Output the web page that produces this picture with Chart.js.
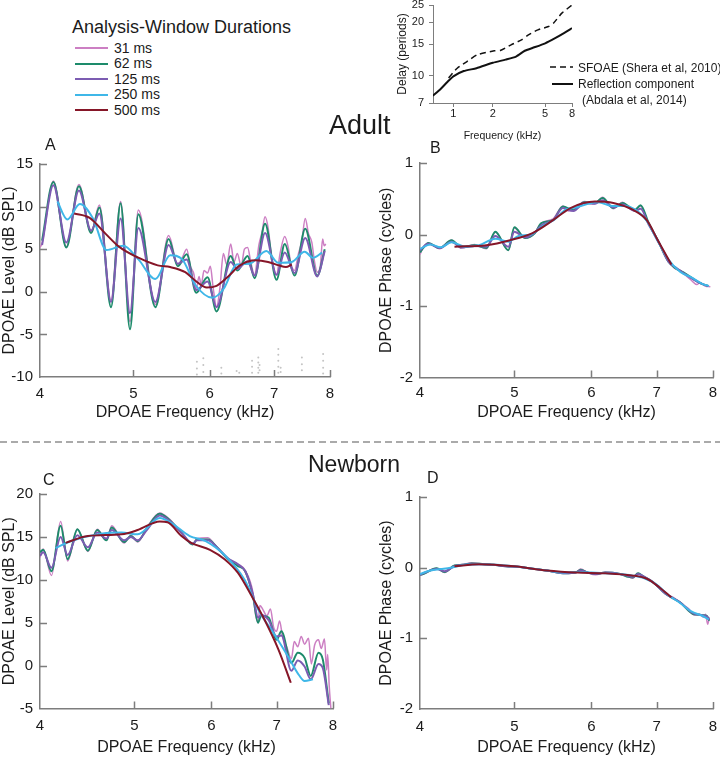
<!DOCTYPE html>
<html>
<head>
<meta charset="utf-8">
<script src="https://cdn.jsdelivr.net/npm/chart.js@4.4.1/dist/chart.umd.min.js"></script>
<style>
body{margin:0;background:#fff}
#page{position:relative;width:720px;height:758px;overflow:hidden;font-family:"Liberation Sans",Arial,sans-serif;color:#1b1b1b;background:#fff}
#page canvas{position:absolute}
.t{position:absolute;white-space:nowrap;line-height:1}
</style>
</head>
<body>
<div id="page">
  <canvas id="inset" width="190" height="145" style="left:390px;top:0"></canvas>
  <canvas id="chartA" width="345" height="300" style="left:0;top:130px"></canvas>
  <canvas id="chartB" width="360" height="300" style="left:360px;top:130px"></canvas>
  <canvas id="chartC" width="345" height="298" style="left:0;top:460px"></canvas>
  <canvas id="chartD" width="360" height="298" style="left:360px;top:460px"></canvas>

  <div class="t" style="left:72px;top:18px;font-size:18px">Analysis-Window Durations</div>
  <div id="legend"></div>

  <svg style="position:absolute;left:548px;top:60px" width="30" height="30">
    <line x1="2" y1="7" x2="25" y2="7" stroke="#111" stroke-width="1.5" stroke-dasharray="6,4"/>
    <line x1="4" y1="24" x2="25" y2="24" stroke="#111" stroke-width="2"/>
  </svg>
  <div class="t" style="left:578px;top:61.5px;font-size:12px">SFOAE (Shera et al, 2010)</div>
  <div class="t" style="left:578px;top:78px;font-size:12px">Reflection component</div>
  <div class="t" style="left:582px;top:93.5px;font-size:12px">(Abdala et al, 2014)</div>

  <div class="t" style="left:329px;top:112px;font-size:27px">Adult</div>
  <div class="t" style="left:308px;top:452.5px;font-size:23px">Newborn</div>
  <div class="t" style="left:45px;top:136.5px;font-size:16px">A</div>
  <div class="t" style="left:430px;top:139.5px;font-size:16px">B</div>
  <div class="t" style="left:43px;top:471.5px;font-size:16px">C</div>
  <div class="t" style="left:427px;top:469.5px;font-size:16px">D</div>

  <svg style="position:absolute;left:0;top:436px" width="720" height="12">
    <line x1="0" y1="6" x2="720" y2="6" stroke="#aaa" stroke-width="2" stroke-dasharray="7,4"/>
  </svg>
</div>

<script>
// analysis windows
const windowNames = ['31 ms', '62 ms', '125 ms', '250 ms', '500 ms'];
const windowColors = ['#cc7fc3', '#1d8b6b', '#7c5cb2', '#3fb7e8', '#861628'];

// tick labels
const freqTicks = [4, 5, 6, 7, 8];
const levelTicksAdult = [-10, -5, 0, 5, 10, 15];
const levelTicksNewborn = [-5, 0, 5, 10, 15, 20];
const phaseTicks = [-2, -1, 0, 1];
const insetFreqTicks = [1, 2, 5, 8];
const insetDelayTicks = [7, 10, 15, 20, 25];

// inset: delay in periods vs frequency (kHz)
const sfoaeFreq = [0.92, 1.07, 1.27, 1.52, 2.05, 2.3, 2.75, 3.3, 3.7, 4.4, 5.3, 5.8, 6.7, 8.0];
const sfoaeDelay = [9.7, 11.0, 12.0, 13.1, 13.8, 13.9, 14.9, 15.9, 16.9, 18.1, 18.9, 19.8, 22.5, 25.0];
const reflFreq = [0.7, 0.8, 0.9, 1.0, 1.2, 1.5, 2.0, 2.5, 3.0, 3.5, 4.0, 5.0, 6.0, 7.0, 8.0];
const reflDelay = [7.7, 8.4, 9.2, 9.9, 10.6, 11.0, 11.8, 12.3, 12.8, 13.8, 14.3, 15.2, 16.3, 17.4, 18.5];

// A: adult level (dB SPL), [kHz, value]
const adultLevel31 = [[4.00,5.2],[4.02,5.7],[4.13,13.0],[4.26,5.3],[4.39,12.6],[4.52,7.0],[4.61,10.2],[4.74,-1.0],[4.85,10.6],[4.96,-3.5],[5.06,9.6],[5.27,-1.5],[5.44,6.6],[5.56,3.2],[5.62,4.0],[5.68,5.0],[5.73,3.0],[5.78,2.0],[5.81,0.3],[5.85,1.8],[5.88,0.8],[5.92,2.5],[5.97,2.2],[6.01,3.0],[6.05,0.5],[6.10,-1.8],[6.15,0.5],[6.20,4.5],[6.25,3.2],[6.31,5.6],[6.36,3.5],[6.41,4.5],[6.47,3.0],[6.52,5.0],[6.57,5.2],[6.62,3.5],[6.68,2.0],[6.75,5.5],[6.80,7.0],[6.85,8.8],[6.90,7.5],[6.96,4.0],[7.04,2.0],[7.10,4.5],[7.18,6.5],[7.24,5.2],[7.28,3.5],[7.35,2.5],[7.42,4.5],[7.48,6.0],[7.54,8.6],[7.60,6.8],[7.66,5.8],[7.71,3.5],[7.76,2.3],[7.82,3.2],[7.86,6.2],[7.89,5.4],[7.92,5.6]];
const adultLevel62 = [[4.02,6.0],[4.13,12.9],[4.26,5.2],[4.39,12.4],[4.52,6.9],[4.61,9.9],[4.74,-1.8],[4.85,10.4],[4.96,-4.4],[5.06,9.1],[5.27,-1.8],[5.44,6.2],[5.56,3.0],[5.68,4.4],[5.81,-0.1],[5.97,1.7],[6.10,-2.3],[6.31,4.2],[6.41,2.5],[6.57,4.2],[6.68,1.6],[6.85,8.0],[7.04,1.4],[7.18,5.6],[7.35,1.9],[7.54,7.4],[7.76,1.9],[7.90,5.0]];
const adultLevel125 = [[4.02,5.5],[4.13,12.5],[4.26,5.8],[4.39,11.9],[4.52,7.2],[4.61,9.2],[4.74,-1.2],[4.85,8.6],[4.96,-2.5],[5.06,7.5],[5.27,-1.2],[5.44,5.5],[5.56,3.3],[5.68,3.8],[5.81,0.2],[5.97,1.2],[6.10,-1.8],[6.31,3.5],[6.41,2.7],[6.57,3.6],[6.68,1.9],[6.85,6.9],[7.04,2.0],[7.18,4.6],[7.35,2.2],[7.54,6.3],[7.76,1.8],[7.90,4.8]];
const adultLevel250 = [[4.17,10.6],[4.27,8.5],[4.40,10.3],[4.54,8.6],[4.69,4.9],[4.88,5.4],[5.06,3.8],[5.27,1.5],[5.46,4.3],[5.62,3.8],[5.80,0.8],[6.04,-0.7],[6.20,0.3],[6.40,3.2],[6.60,3.3],[6.87,4.8],[7.07,3.4],[7.30,3.5],[7.53,4.7],[7.68,4.0],[7.85,4.6]];
const adultLevel500 = [[4.34,9.2],[4.50,8.7],[4.68,6.8],[4.83,5.3],[5.06,4.0],[5.30,3.1],[5.46,2.9],[5.66,2.3],[5.80,1.3],[5.96,0.5],[6.10,0.7],[6.26,1.7],[6.45,3.1],[6.70,3.7],[6.90,3.5],[7.08,3.1],[7.20,2.9],[7.30,3.2]];
const adultNoise = [[5.82,-8.2],[5.82,-9.0],[5.82,-9.7],[5.91,-7.8],[5.91,-8.6],[5.91,-9.4],[6.17,-8.9],[6.17,-9.6],[6.40,-9.3],[6.44,-9.5],[6.64,-8.1],[6.64,-8.8],[6.64,-9.5],[6.74,-7.7],[6.74,-8.3],[6.74,-8.9],[6.74,-9.5],[6.76,-8.6],[6.76,-9.2],[7.07,-6.7],[7.07,-7.4],[7.07,-8.1],[7.07,-8.8],[7.07,-9.5],[7.11,-8.9],[7.11,-9.4],[7.48,-7.7],[7.48,-8.5],[7.48,-9.2],[7.87,-7.3],[7.87,-8.1],[7.87,-8.9],[7.87,-9.6]];

// B: adult phase (cycles)
const adultPhase31 = [[4.00,-0.28],[4.03,-0.18],[4.08,-0.12],[4.19,-0.20],[4.31,-0.08],[4.41,-0.19],[4.55,-0.14],[4.68,-0.20],[4.78,0.03],[4.93,-0.22],[5.00,0.09],[5.13,-0.05],[5.25,0.03],[5.33,0.16],[5.48,0.22],[5.61,0.40],[5.68,0.33],[5.75,0.35],[5.83,0.42],[5.90,0.46],[6.05,0.43],[6.16,0.52],[6.25,0.42],[6.32,0.36],[6.46,0.45],[6.55,0.38],[6.65,0.35],[6.74,0.40],[6.87,0.15],[7.02,-0.10],[7.10,-0.20],[7.20,-0.36],[7.32,-0.48],[7.40,-0.50],[7.48,-0.56],[7.60,-0.64],[7.70,-0.70],[7.76,-0.67],[7.85,-0.72],[7.95,-0.73]];
const adultPhase62 = [[4.00,-0.25],[4.03,-0.19],[4.08,-0.12],[4.19,-0.19],[4.31,-0.08],[4.41,-0.18],[4.55,-0.15],[4.68,-0.19],[4.78,0.04],[4.93,-0.22],[5.00,0.10],[5.13,-0.05],[5.25,0.02],[5.33,0.16],[5.48,0.20],[5.61,0.39],[5.75,0.34],[5.90,0.45],[6.05,0.44],[6.16,0.51],[6.32,0.37],[6.46,0.44],[6.65,0.34],[6.74,0.41],[6.87,0.16],[7.02,-0.08],[7.20,-0.38],[7.32,-0.47],[7.48,-0.54],[7.76,-0.68],[7.91,-0.72]];
const adultPhase125 = [[4.00,-0.22],[4.08,-0.13],[4.19,-0.19],[4.31,-0.10],[4.41,-0.18],[4.55,-0.16],[4.68,-0.17],[4.78,-0.02],[4.93,-0.17],[5.00,0.04],[5.13,-0.04],[5.25,0.03],[5.33,0.13],[5.48,0.20],[5.61,0.37],[5.75,0.33],[5.90,0.44],[6.05,0.43],[6.16,0.48],[6.32,0.38],[6.46,0.42],[6.65,0.33],[6.74,0.36],[6.87,0.14],[7.02,-0.08],[7.20,-0.38],[7.32,-0.46],[7.48,-0.55],[7.76,-0.68],[7.91,-0.72]];
const adultPhase250 = [[4.00,-0.20],[4.10,-0.14],[4.20,-0.18],[4.31,-0.11],[4.45,-0.17],[4.60,-0.15],[4.78,-0.06],[4.93,-0.10],[5.05,-0.02],[5.20,0.00],[5.35,0.12],[5.50,0.21],[5.65,0.35],[5.80,0.38],[5.95,0.43],[6.10,0.45],[6.30,0.40],[6.50,0.40],[6.70,0.32],[6.85,0.18],[7.00,-0.06],[7.20,-0.35],[7.40,-0.52],[7.60,-0.60],[7.80,-0.69],[7.92,-0.72]];
const adultPhase500 = [[4.34,-0.17],[4.68,-0.15],[4.95,-0.08],[5.22,0.02],[5.48,0.20],[5.71,0.37],[6.05,0.46],[6.32,0.44],[6.63,0.34],[6.84,0.20],[7.02,-0.08],[7.25,-0.42]];

// C: newborn level (dB SPL)
const newbornLevel31 = [[4.00,12.6],[4.03,13.6],[4.11,10.5],[4.20,16.8],[4.27,12.2],[4.37,15.9],[4.48,13.3],[4.58,15.9],[4.68,14.6],[4.74,16.3],[4.88,14.3],[4.96,15.2],[5.04,14.4],[5.15,16.1],[5.31,17.8],[5.43,17.1],[5.59,15.4],[5.74,14.2],[5.80,14.8],[5.95,14.9],[6.09,13.6],[6.24,12.5],[6.39,11.8],[6.50,11.1],[6.62,8.5],[6.66,6.0],[6.70,5.0],[6.73,7.0],[6.78,6.5],[6.84,5.8],[6.90,6.6],[6.95,4.5],[7.00,4.0],[7.05,5.2],[7.10,3.4],[7.18,2.0],[7.25,0.8],[7.30,2.8],[7.36,2.2],[7.42,3.4],[7.48,2.5],[7.55,3.2],[7.60,0.2],[7.66,2.4],[7.73,3.0],[7.78,2.0],[7.84,3.1],[7.88,-0.5],[7.90,1.3],[7.93,-2.5],[7.96,-5.0]];
const newbornLevel62 = [[4.00,13.2],[4.03,13.5],[4.11,11.0],[4.20,16.3],[4.27,12.4],[4.37,15.9],[4.48,13.4],[4.58,15.8],[4.68,14.6],[4.74,16.1],[4.88,14.4],[4.96,15.1],[5.04,14.5],[5.15,16.0],[5.31,17.7],[5.43,17.0],[5.59,15.5],[5.74,14.1],[5.80,14.7],[5.95,14.7],[6.09,13.7],[6.24,12.4],[6.39,11.6],[6.50,11.0],[6.62,8.1],[6.70,5.0],[6.75,5.8],[6.87,5.6],[7.00,3.0],[7.08,4.0],[7.25,0.3],[7.36,1.5],[7.48,0.9],[7.59,-1.2],[7.73,1.5],[7.81,0.7],[7.92,-4.4]];
const newbornLevel125 = [[4.00,12.8],[4.03,13.2],[4.11,11.4],[4.20,15.0],[4.27,12.9],[4.37,15.2],[4.48,13.8],[4.58,15.5],[4.68,14.8],[4.74,15.8],[4.88,14.6],[4.96,15.0],[5.04,14.6],[5.15,15.8],[5.31,17.5],[5.43,16.9],[5.59,15.5],[5.74,14.2],[5.80,14.6],[5.95,14.6],[6.09,13.7],[6.24,12.5],[6.39,11.8],[6.50,11.0],[6.62,8.3],[6.70,5.6],[6.75,5.9],[6.87,5.3],[7.00,3.4],[7.08,3.5],[7.25,-0.6],[7.36,0.6],[7.48,-0.1],[7.59,-1.6],[7.73,0.2],[7.81,-0.3],[7.92,-4.6]];
const newbornLevel250 = [[4.15,13.7],[4.30,14.5],[4.64,15.4],[4.85,15.5],[5.04,15.3],[5.31,17.2],[5.46,16.6],[5.70,15.1],[5.92,14.5],[6.20,12.8],[6.49,10.0],[6.72,6.3],[6.95,3.8],[7.19,1.1],[7.38,-1.1],[7.48,-1.8],[7.63,-1.6]];
const newbornLevel500 = [[4.25,14.3],[4.48,15.1],[4.85,15.3],[5.04,15.8],[5.31,16.8],[5.41,16.7],[5.59,15.1],[5.72,14.3],[5.98,13.5],[6.19,12.4],[6.39,10.8],[6.60,8.1],[6.80,5.4],[7.03,1.9],[7.24,-2.0]];

// D: newborn phase (cycles)
const newbornPhase31 = [[4.00,-0.11],[4.03,-0.09],[4.16,-0.01],[4.24,-0.07],[4.34,0.03],[4.42,0.04],[4.52,0.07],[4.65,0.05],[4.76,0.04],[4.90,0.02],[5.07,0.01],[5.25,-0.02],[5.40,-0.04],[5.64,-0.08],[5.78,-0.07],[5.85,-0.02],[5.95,-0.07],[6.06,-0.10],[6.20,-0.07],[6.42,-0.09],[6.55,-0.13],[6.62,-0.15],[6.70,-0.08],[6.78,-0.12],[6.95,-0.21],[7.15,-0.37],[7.30,-0.43],[7.40,-0.50],[7.55,-0.58],[7.65,-0.67],[7.75,-0.66],[7.82,-0.70],[7.86,-0.66],[7.90,-0.80],[7.93,-0.70]];
const newbornPhase62 = [[4.00,-0.10],[4.03,-0.09],[4.16,-0.01],[4.24,-0.06],[4.34,0.03],[4.42,0.04],[4.52,0.06],[4.65,0.05],[4.76,0.04],[4.90,0.02],[5.07,0.01],[5.25,-0.02],[5.40,-0.04],[5.64,-0.08],[5.78,-0.07],[5.85,-0.03],[5.95,-0.07],[6.06,-0.09],[6.20,-0.07],[6.42,-0.09],[6.55,-0.13],[6.62,-0.14],[6.70,-0.08],[6.78,-0.12],[6.95,-0.21],[7.15,-0.37],[7.40,-0.49],[7.65,-0.66],[7.88,-0.68],[7.93,-0.75]];
const newbornPhase125 = [[4.00,-0.10],[4.03,-0.08],[4.16,-0.02],[4.24,-0.05],[4.34,0.02],[4.42,0.04],[4.52,0.05],[4.65,0.05],[4.76,0.04],[4.90,0.02],[5.07,0.01],[5.25,-0.02],[5.40,-0.04],[5.64,-0.08],[5.78,-0.07],[5.85,-0.04],[5.95,-0.07],[6.06,-0.09],[6.20,-0.07],[6.42,-0.09],[6.55,-0.12],[6.62,-0.13],[6.70,-0.09],[6.78,-0.12],[6.95,-0.21],[7.15,-0.37],[7.40,-0.49],[7.65,-0.65],[7.88,-0.69],[7.93,-0.74]];
const newbornPhase250 = [[4.00,-0.09],[4.10,-0.04],[4.20,-0.02],[4.30,0.00],[4.45,0.04],[4.60,0.05],[4.80,0.04],[5.00,0.02],[5.20,-0.01],[5.40,-0.04],[5.60,-0.07],[5.80,-0.06],[6.00,-0.07],[6.20,-0.08],[6.40,-0.09],[6.60,-0.11],[6.80,-0.15],[7.00,-0.24],[7.20,-0.39],[7.40,-0.50],[7.60,-0.62],[7.80,-0.68],[7.92,-0.73]];
const newbornPhase500 = [[4.34,0.02],[4.60,0.05],[5.00,0.02],[5.40,-0.04],[5.80,-0.07],[6.20,-0.08],[6.60,-0.11],[6.85,-0.16],[7.05,-0.28],[7.25,-0.42]];

const FONT = '"Liberation Sans", Arial, sans-serif';
const INK = '#1b1b1b';
const AXIS = '#7d7d7d';

// legend rows
const legendBox = document.getElementById('legend');
windowNames.forEach((name, i) => {
  const top = 48.3 + i * 15.5;
  legendBox.insertAdjacentHTML('beforeend',
    '<div style="position:absolute;left:75px;top:' + (top - 1) + 'px;width:33px;height:2px;background:' + windowColors[i] + '"></div>' +
    '<div class="t" style="left:114px;top:' + (top - 7.5) + 'px;font-size:14px">' + name + '</div>');
});

const toXY = pts => pts.map(p => ({ x: p[0], y: p[1] }));
const zip = (xs, ys) => xs.map((x, i) => ({ x: x, y: ys[i] }));

function series(pts, i, w) {
  return {
    data: toXY(pts),
    borderColor: windowColors[i],
    borderWidth: w || 2,
    pointRadius: 0,
    cubicInterpolationMode: 'monotone',
    order: 4 - i
  };
}

// tick marks drawn on the inside of the axes
const innerTicks = {
  id: 'innerTicks',
  afterDraw(chart, args, opts) {
    if (!opts.len) return;
    const { ctx, chartArea: a, scales: { x, y } } = chart;
    ctx.save();
    ctx.strokeStyle = AXIS;
    ctx.lineWidth = 1.5;
    ctx.beginPath();
    y.ticks.forEach(t => {
      if (t.value === y.min) return;
      const p = Math.round(y.getPixelForValue(t.value)) + 0.5;
      ctx.moveTo(a.left, p);
      ctx.lineTo(a.left + opts.len, p);
    });
    x.ticks.forEach(t => {
      if (t.value === x.min) return;
      const p = Math.round(x.getPixelForValue(t.value)) + 0.5;
      ctx.moveTo(p, a.bottom);
      ctx.lineTo(p, a.bottom - opts.len);
    });
    ctx.stroke();
    ctx.restore();
  }
};

function panel(id, datasets, g) {
  return new Chart(document.getElementById(id), {
    type: 'line',
    data: { datasets: datasets },
    options: {
      responsive: false,
      animation: false,
      events: [],
      layout: { padding: { top: g.padTop, right: g.padRight, left: 0, bottom: 0 } },
      plugins: { legend: { display: false }, tooltip: { enabled: false }, innerTicks: { len: 7 } },
      scales: {
        x: {
          type: 'logarithmic', min: 4, max: 8,
          afterBuildTicks: s => { s.ticks = freqTicks.map(v => ({ value: v })); },
          afterFit: s => { s.height = g.xHeight; s.paddingLeft = 0; s.paddingRight = 0; },
          ticks: { callback: v => String(v), autoSkip: false, maxRotation: 0, padding: g.xTickPad, color: INK, font: { size: 15, family: FONT } },
          grid: { drawOnChartArea: false, drawTicks: false },
          border: { color: AXIS, width: 1.5 },
          title: { display: true, text: 'DPOAE Frequency (kHz)', color: INK, font: { size: 16, family: FONT }, padding: { top: 0, bottom: g.xTitlePad } }
        },
        y: {
          min: g.yTicks[0], max: g.yTicks[g.yTicks.length - 1],
          afterBuildTicks: s => { s.ticks = g.yTicks.map(v => ({ value: v })); },
          afterFit: s => { s.width = g.yWidth; s.paddingTop = 0; s.paddingBottom = 0; },
          ticks: { callback: v => String(v), autoSkip: false, padding: 7, color: INK, font: { size: 15, family: FONT } },
          grid: { drawOnChartArea: false, drawTicks: false },
          border: { color: AXIS, width: 1.5 },
          title: { display: true, text: g.yTitle, color: INK, font: { size: 16, family: FONT }, padding: { top: g.yTitlePad, bottom: 0 } }
        }
      }
    },
    plugins: [innerTicks]
  });
}

const levelTitle = 'DPOAE Level (dB SPL)';
const phaseTitle = 'DPOAE Phase (cycles)';

panel('chartA', [
  series(adultLevel31, 0, 1.5), series(adultLevel62, 1), series(adultLevel125, 2),
  series(adultLevel250, 3), series(adultLevel500, 4),
  { data: toXY(adultNoise), showLine: false, pointRadius: 1, borderWidth: 0, backgroundColor: '#c4c4c4', order: 9 }
], { padTop: 34, padRight: 15, xHeight: 53, yWidth: 40, xTickPad: 8, xTitlePad: 8, yTitlePad: 0, yTicks: levelTicksAdult, yTitle: levelTitle });

panel('chartB', [
  series(adultPhase31, 0, 1.5), series(adultPhase62, 1), series(adultPhase125, 2),
  series(adultPhase250, 3), series(adultPhase500, 4)
], { padTop: 33, padRight: 7, xHeight: 52.5, yWidth: 60, xTickPad: 6, xTitlePad: 8, yTitlePad: 17, yTicks: phaseTicks, yTitle: phaseTitle });

panel('chartC', [
  series(newbornLevel31, 0, 1.5), series(newbornLevel62, 1), series(newbornLevel125, 2),
  series(newbornLevel250, 3), series(newbornLevel500, 4)
], { padTop: 34, padRight: 12, xHeight: 49.5, yWidth: 40, xTickPad: 8, xTitlePad: 1, yTitlePad: 0, yTicks: levelTicksNewborn, yTitle: levelTitle });

panel('chartD', [
  series(newbornPhase31, 0, 1.5), series(newbornPhase62, 1), series(newbornPhase125, 2),
  series(newbornPhase250, 3), series(newbornPhase500, 4)
], { padTop: 37, padRight: 7, xHeight: 49, yWidth: 60, xTickPad: 9, xTitlePad: 1, yTitlePad: 17, yTicks: phaseTicks, yTitle: phaseTitle });

// inset
new Chart(document.getElementById('inset'), {
  type: 'line',
  data: {
    datasets: [
      { data: zip(sfoaeFreq, sfoaeDelay), borderColor: '#111', borderWidth: 1.5, borderDash: [6, 4], pointRadius: 0, tension: 0.2 },
      { data: zip(reflFreq, reflDelay), borderColor: '#111', borderWidth: 2, pointRadius: 0, tension: 0.2 }
    ]
  },
  options: {
    responsive: false,
    animation: false,
    events: [],
    layout: { padding: { top: 5, right: 8, left: 0, bottom: 0 } },
    plugins: { legend: { display: false }, tooltip: { enabled: false } },
    scales: {
      x: {
        type: 'logarithmic', min: 0.7, max: 8,
        afterBuildTicks: s => { s.ticks = insetFreqTicks.map(v => ({ value: v })); },
        afterFit: s => { s.height = 42; s.paddingLeft = 0; s.paddingRight = 0; },
        ticks: { callback: v => String(v), autoSkip: false, maxRotation: 0, padding: 0, color: INK, font: { size: 11, family: FONT } },
        grid: { drawOnChartArea: false, tickLength: 4, color: AXIS },
        border: { color: AXIS, width: 1 },
        title: { display: true, text: 'Frequency (kHz)', color: INK, font: { size: 10.5, family: FONT }, padding: { top: 0, bottom: 3 } }
      },
      y: {
        type: 'logarithmic', min: 7, max: 25,
        afterBuildTicks: s => { s.ticks = insetDelayTicks.map(v => ({ value: v })); },
        afterFit: s => { s.width = 43; s.paddingTop = 0; s.paddingBottom = 0; },
        ticks: { callback: v => String(v), autoSkip: false, padding: 5, color: INK, font: { size: 11, family: FONT } },
        grid: { drawOnChartArea: false, tickLength: 4, color: AXIS },
        border: { color: AXIS, width: 1 },
        title: { display: true, text: 'Delay (periods)', color: INK, font: { size: 12, family: FONT }, padding: { top: 5, bottom: 0 } }
      }
    }
  }
});
</script>
</body>
</html>
